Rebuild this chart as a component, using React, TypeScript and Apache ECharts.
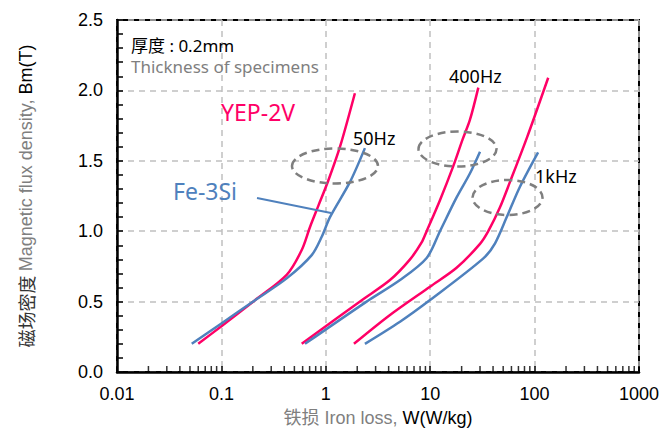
import React, { useEffect, useRef } from "react";
import * as echarts from "echarts";

// ---- data ----
const xTickLabels = ["0.01", "0.1", "1", "10", "100", "1000"];
const yTickLabels = ["0.0", "0.5", "1.0", "1.5", "2.0", "2.5"];

const yep50Hz: [number, number][] = [
  [0.06, 0.2], [0.1, 0.325], [0.21, 0.51], [0.422, 0.69], [0.588, 0.866],
  [0.706, 1.03], [0.848, 1.18], [1.057, 1.36], [1.368, 1.6], [1.9, 1.98],
];
const fe50Hz: [number, number][] = [
  [0.052, 0.2], [0.1, 0.345], [0.21, 0.51], [0.422, 0.665], [0.733, 0.83],
  [0.914, 0.96], [1.097, 1.1], [1.706, 1.35], [2.37, 1.59],
];
const yep400Hz: [number, number][] = [
  [0.588, 0.2], [2.21, 0.51], [4.12, 0.653], [6.41, 0.8], [8.28, 0.92],
  [9.25, 1.0], [12.4, 1.22], [16.6, 1.46], [20.4, 1.65], [24, 1.79], [28.9, 2.02],
];
const fe400Hz: [number, number][] = [
  [0.632, 0.2], [2.46, 0.5], [5.14, 0.653], [9.25, 0.81], [12.4, 1.0],
  [17.9, 1.24], [24, 1.41], [30, 1.565],
];
const yep1kHz: [number, number][] = [
  [1.86, 0.2], [4.12, 0.405], [9.96, 0.606], [17.9, 0.74], [30, 0.91],
  [36, 1.0], [46.6, 1.17], [58.1, 1.35], [85, 1.67], [135, 2.09],
];
const fe1kHz: [number, number][] = [
  [2.37, 0.2], [5.14, 0.357], [9.96, 0.511], [32.3, 0.807], [41.8, 0.914],
  [54.1, 1.1], [72.4, 1.316], [108, 1.56],
];

const decades = [0.01, 0.1, 1, 10, 100];
const minorSteps = [2, 3, 4, 5, 6, 7, 8, 9];

const PINK = "#ff0066";
const BLUE = "#4f81bd";

export default function App() {
  const ref = useRef<HTMLDivElement>(null);
  useEffect(() => {
    if (!ref.current) return;
    const chart = echarts.init(ref.current, undefined, { renderer: "svg" });
    const minorTicks = decades.flatMap((d) =>
      minorSteps.map((m) => [Number((d * m).toPrecision(2)), 0])
    );
    const lineSeries = (name: string, data: [number, number][], color: string) => ({
      name,
      type: "line",
      data,
      smooth: 0.3,
      showSymbol: false,
      symbol: "none",
      lineStyle: { color, width: 2.5 },
      itemStyle: { color },
      z: 3,
    });
    const annFont = "'Noto Sans', 'Noto Sans CJK SC', sans-serif";
    const ellipse = (cx: number, cy: number, rx: number, ry: number) => ({
      type: "ellipse",
      shape: { cx, cy, rx, ry },
      style: { fill: "none", stroke: "#7f7f7f", lineWidth: 2.5, lineDash: [8, 5] },
      z: 10,
    });
    const text = (x: number, y: number, t: string, size: number, color: string) => ({
      type: "text",
      x,
      y,
      style: {
        text: t,
        fontSize: size,
        fontFamily: annFont,
        fill: color,
        verticalAlign: "middle",
        align: "left",
      },
      z: 10,
    });
    chart.setOption({
      animation: false,
      grid: {
        left: 117,
        right: 30,
        top: 20,
        bottom: 56,
        show: true,
        borderColor: "#000",
        borderWidth: 2,
        backgroundColor: "transparent",
        containLabel: false,
        outerBoundsMode: "none",
      },
      xAxis: {
        type: "log",
        logBase: 10,
        min: 0.01,
        max: 1000,
        name: "{g|铁损 Iron loss, }{b|W(W/kg)}",
        nameLocation: "middle",
        nameGap: 37,
        nameTextStyle: {
          rich: {
            g: { fontSize: 18, color: "#7f7f7f", fontFamily: "'Liberation Sans', 'Noto Sans CJK SC', sans-serif" },
            b: { fontSize: 18, color: "#000", fontFamily: "'Liberation Sans', sans-serif" },
          },
        },
        axisLine: { lineStyle: { color: "#000", width: 2.5 } },
        axisTick: { inside: true, length: 6, lineStyle: { color: "#000", width: 1.5 } },
        axisLabel: {
          fontSize: 18,
          color: "#000",
          fontFamily: "'Liberation Sans', sans-serif",
          margin: 13,
          formatter: (v: number) => {
            const i = Math.round(Math.log10(v)) + 2;
            return xTickLabels[i] ?? String(v);
          },
        },
        splitLine: { show: true, lineStyle: { color: "#c0c0c0", width: 1.5, type: [6, 5] } },
      },
      yAxis: {
        type: "value",
        min: 0,
        max: 2.5,
        interval: 0.5,
        name: "{d|磁场密度 }{g|Magnetic flux density, }{b|Bm(T)}",
        nameLocation: "middle",
        nameRotate: 90,
        nameGap: 82,
        nameTextStyle: {
          rich: {
            d: { fontSize: 18, color: "#333", fontFamily: "'Noto Sans CJK SC', sans-serif" },
            g: { fontSize: 18, color: "#7f7f7f", fontFamily: "'Liberation Sans', sans-serif" },
            b: { fontSize: 18, color: "#000", fontFamily: "'Liberation Sans', sans-serif" },
          },
        },
        axisLine: { show: true, lineStyle: { color: "#000", width: 2.5 } },
        axisTick: { show: true, inside: true, length: 6, lineStyle: { color: "#000", width: 1.5 } },
        minorTick: { show: true, splitNumber: 5, length: 6, lineStyle: { color: "#000", width: 1.5 } },
        axisLabel: {
          fontSize: 18,
          color: "#000",
          fontFamily: "'Liberation Sans', sans-serif",
          margin: 14,
          formatter: (v: number) => yTickLabels[Math.round(v / 0.5)] ?? v.toFixed(1),
        },
        splitLine: { show: true, lineStyle: { color: "#c0c0c0", width: 1.5, type: [6, 5] } },
      },
      series: [
        lineSeries("YEP-2V 50Hz", yep50Hz, PINK),
        lineSeries("Fe-3Si 50Hz", fe50Hz, BLUE),
        lineSeries("YEP-2V 400Hz", yep400Hz, PINK),
        lineSeries("Fe-3Si 400Hz", fe400Hz, BLUE),
        lineSeries("YEP-2V 1kHz", yep1kHz, PINK),
        lineSeries("Fe-3Si 1kHz", fe1kHz, BLUE),
        {
          name: "minor ticks",
          type: "scatter",
          data: minorTicks,
          symbol: "rect",
          symbolSize: [1.5, 6],
          symbolOffset: [0, -3],
          itemStyle: { color: "#000" },
          silent: true,
          clip: false,
          z: 5,
        },
      ],
      graphic: [
        text(131, 45, "厚度 : 0.2mm", 17, "#000"),
        text(131, 66, "Thickness of specimens", 17, "#7f7f7f"),
        text(221, 112, "YEP-2V", 23, PINK),
        text(173, 191, "Fe-3Si", 23, BLUE),
        text(353, 138, "50Hz", 18, "#000"),
        text(449, 76, "400Hz", 18, "#000"),
        text(535, 176, "1kHz", 18, "#000"),
        {
          type: "line",
          shape: { x1: 257, y1: 198, x2: 331, y2: 213 },
          style: { stroke: BLUE, lineWidth: 1.8 },
          z: 10,
        },
        ellipse(335, 166, 43, 17.5),
        ellipse(457.5, 149, 39, 17.5),
        ellipse(507.5, 197.5, 35, 17.5),
      ],
    });
    return () => chart.dispose();
  }, []);
  return (
    <div
      ref={ref}
      style={{ position: "fixed", left: 0, top: 0, width: 669, height: 428, background: "#fff" }}
    />
  );
}
